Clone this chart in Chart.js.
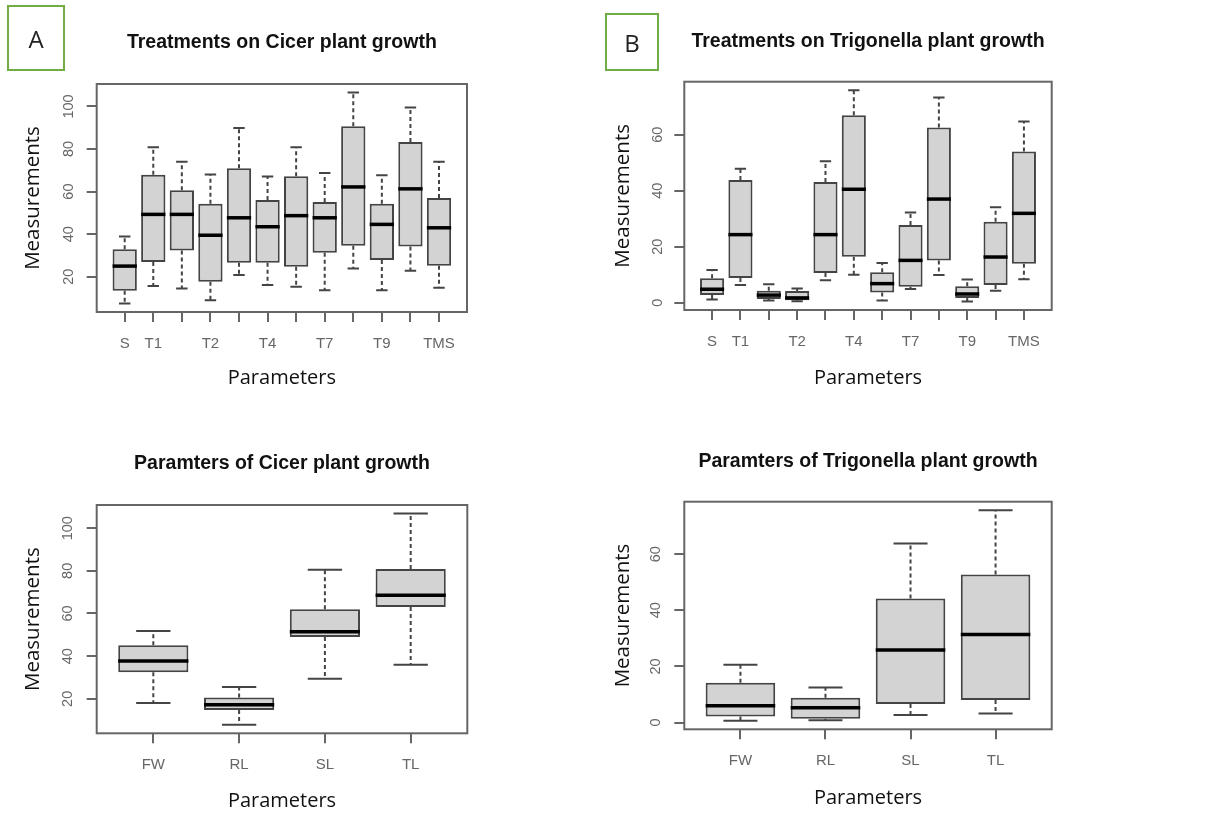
<!DOCTYPE html>
<html><head><meta charset="utf-8">
<script src="https://cdn.jsdelivr.net/npm/chart.js@4.4.1/dist/chart.umd.min.js"></script>
<style>
html,body{margin:0;padding:0;background:#fff;overflow:hidden;width:1213px;height:813px;position:relative}
canvas{position:absolute}
.lbl{position:absolute;border:2px solid #70ad47;box-sizing:border-box;font-family:'Open Sans',sans-serif;font-size:24px;color:#222;display:flex;align-items:center;justify-content:center}
</style></head><body>
<canvas id="cA" width="560" height="400" style="left:0;top:0"></canvas>
<canvas id="cB" width="623" height="400" style="left:590px;top:0"></canvas>
<canvas id="cC" width="560" height="410" style="left:0;top:410px"></canvas>
<canvas id="cD" width="623" height="410" style="left:590px;top:410px"></canvas>
<div class="lbl" style="left:7px;top:5px;width:58px;height:66px">A</div>
<div class="lbl" style="left:605px;top:13px;width:54px;height:58px">B</div>
<script>
// ---------- data ----------
const treatLabels = ['S','T1','','T2','','T4','','T7','','T9','','TMS'];
const paramLabels = ['FW','RL','SL','TL'];

const yTicksCicer = [20,40,60,80,100];
const yTicksTrig = [0,20,40,60];

// Treatments on Cicer plant growth
const cicerTreatLow  = [7.4, 15.7, 14.5, 9.0, 20.8, 16.1, 15.3, 13.7, 23.9, 13.7, 22.8, 14.8];
const cicerTreatQ1   = [13.4, 26.9, 32.3, 17.6, 26.6, 26.6, 24.7, 31.3, 34.6, 27.9, 34.2, 25.2];
const cicerTreatMed  = [25.0, 49.3, 49.3, 39.5, 47.7, 43.5, 48.7, 47.7, 62.2, 44.6, 61.3, 43.0];
const cicerTreatQ3   = [32.9, 67.9, 60.6, 54.3, 71.0, 56.1, 67.2, 55.1, 90.7, 54.3, 83.3, 57.0];
const cicerTreatHigh = [38.9, 80.9, 74.0, 68.0, 89.9, 67.1, 80.9, 68.8, 106.6, 67.7, 99.5, 74.0];

// Treatments on Trigonella plant growth
const trigTreatLow  = [1.1, 6.3, 0.8, 0.5, 8.0, 10.0, 0.8, 4.9, 9.9, 0.4, 4.3, 8.4];
const trigTreatQ1   = [2.7, 8.8, 1.3, 0.9, 10.6, 16.4, 3.6, 5.7, 15.1, 1.7, 6.3, 13.9];
const trigTreatMed  = [4.8, 24.3, 2.7, 1.7, 24.3, 40.5, 6.8, 15.1, 37.0, 3.1, 16.3, 31.9];
const trigTreatQ3   = [8.7, 43.8, 4.3, 4.2, 43.1, 66.9, 10.9, 27.7, 62.6, 5.9, 28.9, 54.0];
const trigTreatHigh = [11.7, 47.8, 6.6, 5.1, 50.5, 75.9, 14.2, 32.2, 73.3, 8.3, 34.1, 64.7];

// Paramters of Cicer plant growth
const cicerParamLow  = [18.0, 7.8, 29.4, 36.0];
const cicerParamQ1   = [32.5, 14.8, 49.0, 63.1];
const cicerParamMed  = [37.7, 17.2, 51.4, 68.6];
const cicerParamQ3   = [45.1, 20.6, 62.0, 80.9];
const cicerParamHigh = [51.8, 25.5, 80.5, 106.9];

// Paramters of Trigonella plant growth
const trigParamLow  = [0.6, 0.8, 2.7, 3.2];
const trigParamQ1   = [2.2, 1.4, 6.6, 8.0];
const trigParamMed  = [6.0, 5.3, 25.9, 31.4];
const trigParamQ3   = [14.2, 8.8, 44.2, 52.8];
const trigParamHigh = [20.6, 12.5, 63.8, 75.7];

// ---------- rendering ----------
Chart.defaults.font.family = "'Liberation Sans', Arial, sans-serif";

function boxPlugin(st) {
  return {
    id: 'boxWhisk',
    beforeDatasetsDraw(chart) {
      const {ctx, chartArea: a} = chart;
      ctx.save();
      ctx.strokeStyle = '#666'; ctx.lineWidth = 2;
      ctx.strokeRect(a.left, a.top, a.right - a.left, a.bottom - a.top);
      ctx.restore();
    },
    afterDatasetsDraw(chart) {
      const ctx = chart.ctx, xs = chart.scales.x, ys = chart.scales.y;
      const bars = chart.getDatasetMeta(0).data;
      ctx.save();
      st.med.forEach((m, i) => {
        const xv = i + 1;
        const cx = xs.getPixelForValue(xv);
        const sl = xs.getPixelForValue(xv - 0.2), sr = xs.getPixelForValue(xv + 0.2);
        const yq1 = ys.getPixelForValue(st.q1[i]), yq3 = ys.getPixelForValue(st.q3[i]);
        const ylo = ys.getPixelForValue(st.lo[i]), yhi = ys.getPixelForValue(st.hi[i]);
        ctx.strokeStyle = '#444'; ctx.lineWidth = 2;
        ctx.setLineDash([4, 3]);
        ctx.beginPath();
        ctx.moveTo(cx, yq3); ctx.lineTo(cx, yhi);
        ctx.moveTo(cx, yq1); ctx.lineTo(cx, ylo);
        ctx.stroke();
        ctx.setLineDash([]);
        ctx.beginPath();
        ctx.moveTo(sl, yhi); ctx.lineTo(sr, yhi);
        ctx.moveTo(sl, ylo); ctx.lineTo(sr, ylo);
        ctx.stroke();
        const b = bars[i], hw = b.width / 2;
        const ym = ys.getPixelForValue(m);
        ctx.strokeStyle = '#000'; ctx.lineWidth = 3.5;
        ctx.beginPath(); ctx.moveTo(b.x - hw, ym); ctx.lineTo(b.x + hw, ym); ctx.stroke();
      });
      ctx.restore();
    }
  };
}

function makeChart(id, o, L) {
  const n = o.labels.length;
  const lo = Math.min(...o.lo), hi = Math.max(...o.hi), r = hi - lo;
  new Chart(document.getElementById(id), {
    type: 'bar',
    data: {
      datasets: [{
        data: o.q1.map((v, i) => ({x: i + 1, y: [v, o.q3[i]]})),
        backgroundColor: '#d3d3d3', borderColor: '#444', borderWidth: 2,
        borderSkipped: false, barPercentage: L.barPct, categoryPercentage: 1
      }]
    },
    options: {
      responsive: false, animation: false, events: [],
      layout: {padding: {left: 0, top: 0, right: L.padRight, bottom: 0}},
      plugins: {
        legend: {display: false}, tooltip: {enabled: false},
        title: {display: true, text: o.title, fullSize: false, color: '#111',
          font: {size: 19.5, weight: 'bold'}, padding: {top: L.tPadTop, bottom: L.tPadBottom}}
      },
      scales: {
        x: {
          type: 'linear', offset: false,
          min: 0.5 - 0.04 * n, max: n + 0.5 + 0.04 * n,
          afterBuildTicks: ax => { ax.ticks = o.labels.map((l, i) => ({value: i + 1})); },
          afterFit: ax => { ax.height = L.xHeight; },
          ticks: {autoSkip: false, minRotation: 0, maxRotation: 0, color: '#666',
            font: {size: 15}, padding: 13,
            callback: v => o.labels[Math.round(v) - 1]},
          grid: {offset: false, drawOnChartArea: false, tickLength: 10, color: '#666', lineWidth: 2},
          border: {display: false},
          title: {display: true, text: 'Parameters', color: '#111',
            font: {family: "'Open Sans', sans-serif", size: 20}, padding: {top: 0, bottom: L.xtPadBottom}}
        },
        y: {
          type: 'linear', beginAtZero: false,
          min: lo - 0.04 * r, max: hi + 0.04 * r,
          afterBuildTicks: ax => { ax.ticks = o.yTicks.map(v => ({value: v})); },
          afterFit: ax => { ax.width = L.yWidth; },
          ticks: {minRotation: 90, maxRotation: 90, crossAlign: 'center', padding: L.yTickPad,
            color: '#666', font: {size: 14.5}},
          grid: {drawOnChartArea: false, tickLength: 10, color: '#666', lineWidth: 2},
          border: {display: false},
          title: {display: true, text: 'Measurements', color: '#111',
            font: {family: "'Open Sans', sans-serif", size: 20.5}, padding: {top: 21, bottom: 0}}
        }
      }
    },
    plugins: [boxPlugin(o)]
  });
}

makeChart('cA', {title: 'Treatments on Cicer plant growth', labels: treatLabels, yTicks: yTicksCicer,
  lo: cicerTreatLow, q1: cicerTreatQ1, med: cicerTreatMed, q3: cicerTreatQ3, hi: cicerTreatHigh},
  {padRight: 93, yWidth: 96.7, xHeight: 88, tPadTop: 31.3, tPadBottom: 29.3, xtPadBottom: 10, yTickPad: 5.2, barPct: 0.85});

makeChart('cB', {title: 'Treatments on Trigonella plant growth', labels: treatLabels, yTicks: yTicksTrig,
  lo: trigTreatLow, q1: trigTreatQ1, med: trigTreatMed, q3: trigTreatQ3, hi: trigTreatHigh},
  {padRight: 161.3, yWidth: 94.3, xHeight: 90, tPadTop: 30, tPadBottom: 28.3, xtPadBottom: 10, yTickPad: 8.7, barPct: 0.85});

makeChart('cC', {title: 'Paramters of Cicer plant growth', labels: paramLabels, yTicks: yTicksCicer,
  lo: cicerParamLow, q1: cicerParamQ1, med: cicerParamMed, q3: cicerParamQ3, hi: cicerParamHigh},
  {padRight: 92.7, yWidth: 96.7, xHeight: 86.7, tPadTop: 41.6, tPadBottom: 30, xtPadBottom: 6.3, yTickPad: 6.5, barPct: 0.818});

makeChart('cD', {title: 'Paramters of Trigonella plant growth', labels: paramLabels, yTicks: yTicksTrig,
  lo: trigParamLow, q1: trigParamQ1, med: trigParamMed, q3: trigParamQ3, hi: trigParamHigh},
  {padRight: 161.3, yWidth: 94.3, xHeight: 90.7, tPadTop: 40, tPadBottom: 28.3, xtPadBottom: 10, yTickPad: 10.4, barPct: 0.818});
</script>
</body></html>
